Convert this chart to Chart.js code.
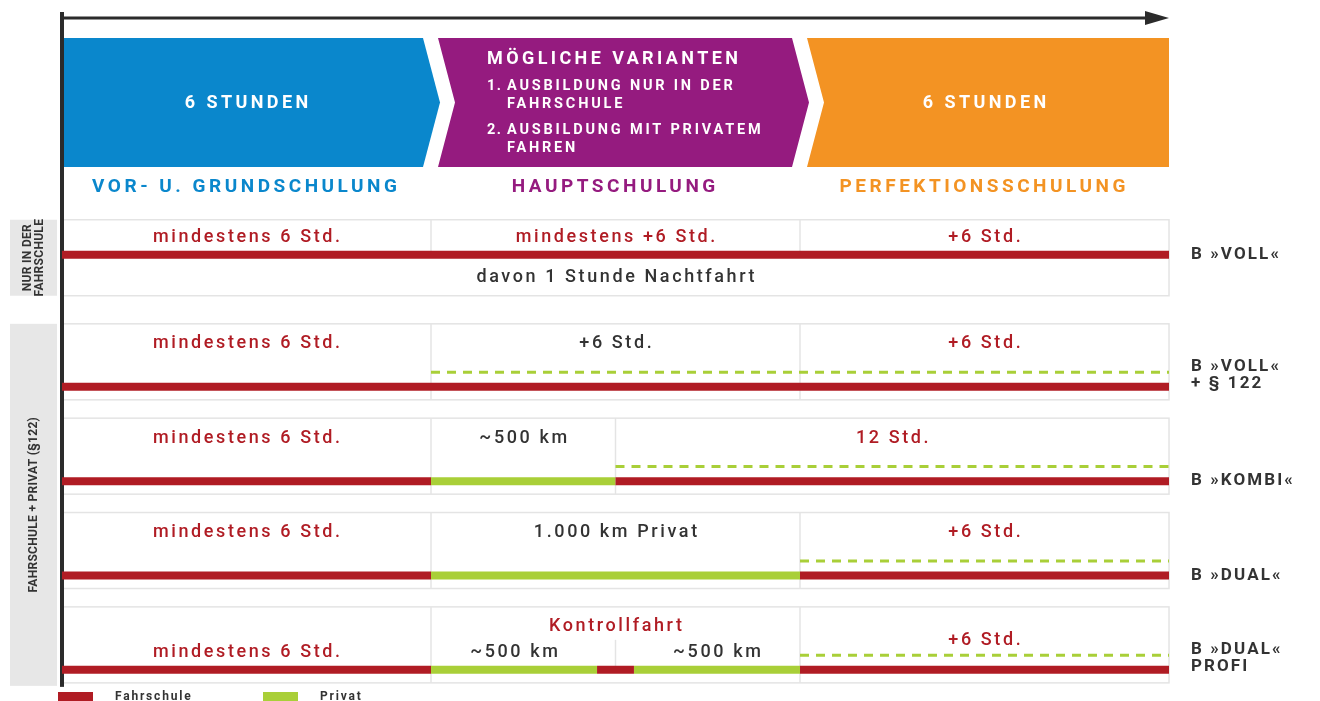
<!DOCTYPE html>
<html>
<head>
<meta charset="utf-8">
<script src="https://cdn.jsdelivr.net/npm/chart.js@4.4.1/dist/chart.umd.min.js"></script>
<style>
  html, body { margin: 0; padding: 0; background: #ffffff; }
  #wrap { width: 1320px; height: 701px; }
</style>
</head>
<body>
<div id="wrap"><canvas id="plan" width="1320" height="701"></canvas></div>
<script>
// Ausbildungsabschnitte (Stunden je Abschnitt)
const phases = ['VOR- U. GRUNDSCHULUNG', 'HAUPTSCHULUNG', 'PERFEKTIONSSCHULUNG'];
const phaseHours = [6, 6, 6];
const phaseHeads = ['6 STUNDEN', '', '6 STUNDEN'];
const variantTitle = 'MÖGLICHE VARIANTEN';
const variantItems = [['1.', 'AUSBILDUNG NUR IN DER', 'FAHRSCHULE'], ['2.', 'AUSBILDUNG MIT PRIVATEM', 'FAHREN']];

// Ausbildungsvarianten
const variants = [['B »VOLL«'], ['B »VOLL«', '+ § 122'], ['B »KOMBI«'], ['B »DUAL«'], ['B »DUAL«', 'PROFI']];
const groups = [['NUR IN DER', 'FAHRSCHULE'], ['FAHRSCHULE + PRIVAT (§122)']];

// Abschnitte auf der Zeitachse (Stunden-Äquivalent), [von, bis]
const fahrschule = [[[0, 18]], [[0, 18]], [[0, 6], [9, 18]], [[0, 6], [12, 18]], [[0, 6], [8.7, 9.3], [12, 18]]];
const privat = [[], [], [[6, 9]], [[6, 12]], [[6, 8.7], [9.3, 12]]];
const privatOptional = [[], [[6, 18]], [[9, 18]], [[12, 18]], [[12, 18]]];

// Zellgrenzen je Variante
const cellBreaks = [[6, 12], [6, 12], [6, 9], [6, 12], [6, 12]];
const subBreaks = [[], [], [], [], [9]];

// Beschriftungen: [von, bis, Text, Farbe ('r' = rot, 'd' = dunkel), Zeile]
const cellTexts = [
  [[0, 6, 'mindestens 6 Std.', 'r', 'top'], [6, 12, 'mindestens +6 Std.', 'r', 'top'], [12, 18, '+6 Std.', 'r', 'top'], [0, 18, 'davon 1 Stunde Nachtfahrt', 'd', 'below']],
  [[0, 6, 'mindestens 6 Std.', 'r', 'top'], [6, 12, '+6 Std.', 'd', 'top'], [12, 18, '+6 Std.', 'r', 'top']],
  [[0, 6, 'mindestens 6 Std.', 'r', 'top'], [6, 9, '~500 km', 'd', 'top'], [9, 18, '12 Std.', 'r', 'top']],
  [[0, 6, 'mindestens 6 Std.', 'r', 'top'], [6, 12, '1.000 km Privat', 'd', 'top'], [12, 18, '+6 Std.', 'r', 'top']],
  [[0, 6, 'mindestens 6 Std.', 'r', 'low'], [6, 12, 'Kontrollfahrt', 'r', 'top'], [6, 8.7, '~500 km', 'd', 'low'], [9.3, 12, '~500 km', 'd', 'low'], [12, 18, '+6 Std.', 'r', 'mid']]
];

const legendItems = ['Fahrschule', 'Privat'];

const RED = '#b01c24';
const GREEN = '#a9cf38';
const DARK = '#333333';
const phaseColors = ['#0a87cc', '#951b7f', '#f39323'];

// Reihenlage der Varianten (erste Reihe mit eigenem Abstand)
const rowY = variants.map((v, i) => i === 0 ? 0 : i + 0.4);

const datasets = [];
function addSegments(list, label, color, dashed) {
  list.forEach((segs, r) => {
    segs.forEach(s => {
      const y = dashed ? rowY[r] - 0.155 : rowY[r];
      datasets.push({
        label: label,
        data: [{x: s[0], y: y}, {x: s[1], y: y}],
        borderColor: color,
        borderWidth: dashed ? 3 : 8,
        borderDash: dashed ? [9, 7] : [],
        borderCapStyle: 'butt',
        pointRadius: 0,
        fill: false,
        tension: 0
      });
    });
  });
}
addSegments(privatOptional, 'Privat (optional)', GREEN, true);
addSegments(fahrschule, 'Fahrschule', RED, false);
addSegments(privat, 'Privat', GREEN, false);

function txt(ctx, s, x, y, font, color, align, spacing) {
  const sp = spacing || 0;
  ctx.font = font;
  ctx.fillStyle = color;
  ctx.textAlign = align || 'center';
  ctx.textBaseline = 'middle';
  ctx.letterSpacing = sp + 'px';
  ctx.fillText(s, (align || 'center') === 'center' ? x + sp / 2 : x, y);
  ctx.letterSpacing = '0px';
}

const FONT = 'Roboto, "DejaVu Sans", sans-serif';

const planPlugin = {
  id: 'planPlugin',
  beforeDatasetsDraw(chart) {
    const ctx = chart.ctx;
    const xs = chart.scales.x, ys = chart.scales.y;
    const L = xs.getPixelForValue(0), R = xs.getPixelForValue(18);
    ctx.save();

    // Zeitpfeil oben
    ctx.strokeStyle = '#2b2b2b';
    ctx.fillStyle = '#2b2b2b';
    ctx.lineWidth = 3;
    ctx.beginPath(); ctx.moveTo(L, 18); ctx.lineTo(R - 20, 18); ctx.stroke();
    ctx.beginPath(); ctx.moveTo(R - 24, 11); ctx.lineTo(R, 18); ctx.lineTo(R - 24, 25); ctx.closePath(); ctx.fill();

    // Kopf-Pfeile
    let start = 0;
    phaseHours.forEach((h, i) => {
      const a = xs.getPixelForValue(start), b = xs.getPixelForValue(start + h);
      const left = i > 0 ? a + 7 : a;
      const right = i < phaseHours.length - 1 ? b - 8 : b;
      const top = 38, bot = 167, mid = 102.5, d = 17;
      ctx.fillStyle = phaseColors[i];
      ctx.beginPath();
      ctx.moveTo(left, top);
      ctx.lineTo(right, top);
      if (i < phaseHours.length - 1) ctx.lineTo(right + d, mid);
      ctx.lineTo(right, bot);
      ctx.lineTo(left, bot);
      if (i > 0) ctx.lineTo(left + d, mid);
      ctx.closePath();
      ctx.fill();
      const cx = (a + b) / 2;
      if (phaseHeads[i]) txt(ctx, phaseHeads[i], cx, mid + 1, '700 18px ' + FONT, '#ffffff', 'center', 3.4);
      txt(ctx, phases[i], cx - 2, 187, '700 19px ' + FONT, phaseColors[i], 'center', 3.5);
      start += h;
    });

    // Text im mittleren Pfeil
    const px = xs.getPixelForValue(6) + 56;
    txt(ctx, variantTitle, px, 59, '700 18px ' + FONT, '#ffffff', 'left', 3.4);
    variantItems.forEach((it, k) => {
      const y0 = 86 + k * 44;
      txt(ctx, it[0], px, y0, '700 14.5px ' + FONT, '#ffffff', 'left', 1.5);
      txt(ctx, it[1], px + 20, y0, '700 14.5px ' + FONT, '#ffffff', 'left', 2.8);
      txt(ctx, it[2], px + 20, y0 + 18, '700 14.5px ' + FONT, '#ffffff', 'left', 2.8);
    });

    // Gruppen links
    const gTop = [rowY[0], rowY[1]];
    const gBot = [rowY[0], rowY[variants.length - 1]];
    groups.forEach((g, gi) => {
      const y0 = ys.getPixelForValue(gTop[gi]) - (gi === 0 ? 35 : 63);
      const y1 = ys.getPixelForValue(gBot[gi]) + (gi === 0 ? 41 : 16);
      ctx.fillStyle = '#e7e7e7';
      ctx.fillRect(10, y0, 47, y1 - y0);
      ctx.save();
      ctx.translate(34, (y0 + y1) / 2);
      ctx.rotate(-Math.PI / 2);
      g.forEach((line, li) => {
        const off = (li - (g.length - 1) / 2) * 12;
        txt(ctx, line, 0, off, '700 12px "Liberation Sans Narrow", ' + FONT, DARK, 'center', 0.3);
      });
      ctx.restore();
    });

    // Zeilenkästen
    variants.forEach((v, r) => {
      const yb = ys.getPixelForValue(rowY[r]);
      const top = r === 0 ? yb - 35 : yb - 63;
      const bot = r === 0 ? yb + 41 : yb + 13;
      ctx.fillStyle = '#ffffff';
      ctx.fillRect(L, top, R - L, bot - top);
      ctx.strokeStyle = '#e4e4e4';
      ctx.lineWidth = 1.5;
      ctx.strokeRect(L, top, R - L, bot - top);
      cellBreaks[r].forEach(c => {
        const x = xs.getPixelForValue(c);
        ctx.beginPath(); ctx.moveTo(x, top); ctx.lineTo(x, r === 0 ? yb : bot); ctx.stroke();
      });
      subBreaks[r].forEach(c => {
        const x = xs.getPixelForValue(c);
        ctx.beginPath(); ctx.moveTo(x, yb - 30); ctx.lineTo(x, yb); ctx.stroke();
      });
    });

    // senkrechte Achse
    ctx.fillStyle = '#2b2b2b';
    ctx.fillRect(L - 2, 12, 4, ys.getPixelForValue(rowY[variants.length - 1]) + 17 - 12);
    ctx.restore();
  },
  afterDatasetsDraw(chart) {
    const ctx = chart.ctx;
    const xs = chart.scales.x, ys = chart.scales.y;
    const R = xs.getPixelForValue(18);
    ctx.save();
    const offs = {top: -43, low: -17, mid: -29, below: 23};
    cellTexts.forEach((cells, r) => {
      const yb = ys.getPixelForValue(rowY[r]);
      cells.forEach(c => {
        const cx = (xs.getPixelForValue(c[0]) + xs.getPixelForValue(c[1])) / 2;
        let dy = offs[c[4]];
        if (r === 0 && c[4] === 'top') dy = -17;
        txt(ctx, c[2], cx, yb + dy, '500 18px ' + FONT, c[3] === 'r' ? RED : DARK, 'center', 2.6);
      });
      // Variantenname rechts
      const lines = variants[r];
      lines.forEach((line, li) => {
        const y = lines.length === 1 ? yb : yb - 20 + li * 17;
        txt(ctx, line, R + 22, y, '700 17px ' + FONT, DARK, 'left', 2.1);
      });
    });

    // Legende
    const legColors = [RED, GREEN];
    const legX = [58, 263];
    legendItems.forEach((name, i) => {
      ctx.fillStyle = legColors[i];
      ctx.fillRect(legX[i], 692, 35, 9);
      txt(ctx, name, legX[i] + 57, 697, '700 12px ' + FONT, DARK, 'left', 1.8);
    });
    ctx.restore();
  }
};

new Chart(document.getElementById('plan').getContext('2d'), {
  type: 'line',
  data: { datasets: datasets },
  options: {
    responsive: false,
    animation: false,
    layout: { padding: { left: 62, right: 151, top: 0, bottom: 0 } },
    scales: {
      x: { type: 'linear', min: 0, max: 18, display: false },
      y: { type: 'linear', min: -2.7, max: 4.73, reverse: true, display: false }
    },
    plugins: {
      legend: { display: false },
      tooltip: { enabled: false }
    }
  },
  plugins: [planPlugin]
});
</script>
</body>
</html>
